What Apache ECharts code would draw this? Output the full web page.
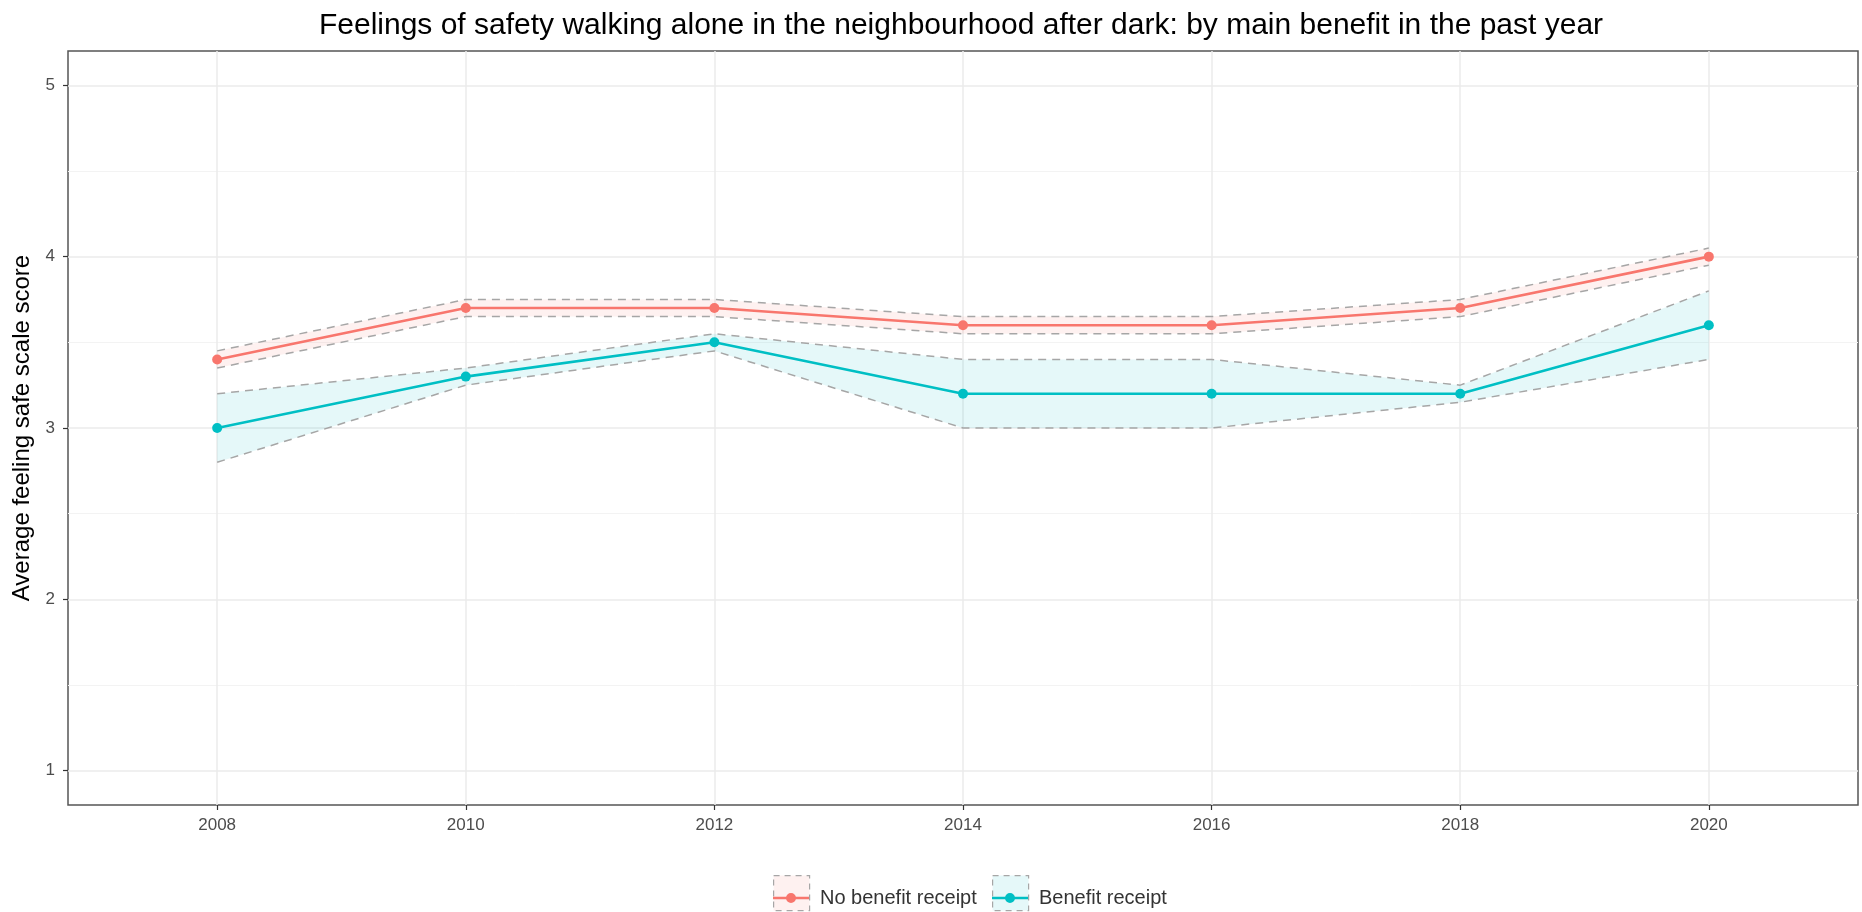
<!DOCTYPE html>
<html>
<head>
<meta charset="utf-8">
<script src="https://cdn.jsdelivr.net/npm/echarts@6/dist/echarts.min.js"></script>
<style>
  html, body { margin: 0; padding: 0; background: #ffffff; }
  #chart { width: 1862px; height: 912px; }
</style>
</head>
<body>
<div id="chart"></div>
<script>
// Survey years
const years = [2008, 2010, 2012, 2014, 2016, 2018, 2020];

// Average feeling-safe score, with lower/upper confidence bounds
const noBenefit     = [3.40, 3.70, 3.70, 3.60, 3.60, 3.70, 4.00];
const noBenefitLow  = [3.35, 3.65, 3.65, 3.55, 3.55, 3.65, 3.95];
const noBenefitHigh = [3.45, 3.75, 3.75, 3.65, 3.65, 3.75, 4.05];

const benefit     = [3.00, 3.30, 3.50, 3.20, 3.20, 3.20, 3.60];
const benefitLow  = [2.80, 3.25, 3.45, 3.00, 3.00, 3.15, 3.40];
const benefitHigh = [3.20, 3.35, 3.55, 3.40, 3.40, 3.25, 3.80];

// Axis ticks
const xTickValues = [2008, 2010, 2012, 2014, 2016, 2018, 2020];
const yTickValues = [1, 2, 3, 4, 5];
const yMinorValues = [1.5, 2.5, 3.5, 4.5];

const seriesNames = ['No benefit receipt', 'Benefit receipt'];
const bandNames = ['No benefit receipt band', 'Benefit receipt band'];
const RED = '#F8766D';
const TEAL = '#00BFC4';
const RED_FILL = 'rgba(248,118,109,0.10)';
const TEAL_FILL = 'rgba(0,191,196,0.10)';
const DASH_GREY = '#a6a6a6';
const FONT = 'Liberation Sans, Arial, sans-serif';

// Key glyph: horizontal line with a point in the middle
const LINE_POINT_ICON =
  'path://M0,3.75 L36,3.75 L36,6.25 L0,6.25 Z M13,5 A5,5 0 1,1 23,5 A5,5 0 1,1 13,5 Z';

const pairs = (vals) => years.map((y, i) => [y, vals[i]]);

// Shaded confidence band drawn as a single polygon through the axis scales
function ribbon(name, low, high, fill) {
  return {
    type: 'custom',
    name: name,
    silent: true,
    z: 1,
    data: years.map((y, i) => [y, low[i], high[i]]),
    encode: { x: 0, y: [1, 2] },
    renderItem: function (params, api) {
      if (params.dataIndex !== 0) return null;
      const top = years.map((y, i) => api.coord([y, high[i]]));
      const bottom = years.map((y, i) => api.coord([y, low[i]])).reverse();
      return {
        type: 'polygon',
        shape: { points: top.concat(bottom) },
        style: { fill: fill }
      };
    }
  };
}

function bound(name, vals) {
  return {
    type: 'line',
    name: name,
    data: pairs(vals),
    symbol: 'none',
    silent: true,
    z: 2,
    lineStyle: { color: DASH_GREY, width: 1.5, type: [8, 6] }
  };
}

function mainLine(name, vals, color) {
  return {
    type: 'line',
    name: name,
    data: pairs(vals),
    symbol: 'circle',
    symbolSize: 10,
    z: 3,
    itemStyle: { color: color },
    lineStyle: { color: color, width: 2.6 }
  };
}

// Dashed key box behind each legend entry
function keyBox(name, left, fill) {
  return {
    show: true,
    left: left, top: 875,
    padding: 0,
    itemWidth: 36, itemHeight: 35,
    selectedMode: false,
    formatter: () => '',
    data: [{
      name: name,
      icon: 'rect',
      itemStyle: { color: fill, borderColor: DASH_GREY, borderWidth: 1.2, borderType: [6, 5] }
    }]
  };
}

// Line-and-point key with its label
function keyLine(name, left, color) {
  return {
    show: true,
    left: left, top: 888,
    padding: 0,
    itemWidth: 36, itemHeight: 10,
    selectedMode: false,
    textStyle: { fontFamily: FONT, fontSize: 20, color: '#333333', padding: [0, 0, 0, 6] },
    data: [{ name: name, icon: LINE_POINT_ICON, itemStyle: { color: color } }]
  };
}

const chart = echarts.init(document.getElementById('chart'), null, { renderer: 'canvas' });

chart.setOption({
  animation: false,
  backgroundColor: '#ffffff',
  title: {
    text: 'Feelings of safety walking alone in the neighbourhood after dark: by main benefit in the past year',
    left: 956,
    textAlign: 'center',
    top: 6,
    textStyle: { fontFamily: FONT, fontSize: 30, fontWeight: 'normal', color: '#000000' }
  },
  legend: [
    keyBox(bandNames[0], 773, RED_FILL),
    keyBox(bandNames[1], 992, TEAL_FILL),
    keyLine(seriesNames[0], 773, RED),
    keyLine(seriesNames[1], 992, TEAL)
  ],
  grid: {
    left: 68, right: 4, top: 51, bottom: 107,
    show: true,
    borderColor: '#555555',
    borderWidth: 1.5,
    backgroundColor: 'transparent'
  },
  xAxis: {
    type: 'value',
    min: 2006.8,
    max: 2021.2,
    axisLine: { show: false },
    axisTick: { show: true, length: 5, customValues: xTickValues, lineStyle: { color: '#333333', width: 1.2 } },
    axisLabel: {
      customValues: xTickValues,
      formatter: (v) => String(v),
      margin: 12,
      fontFamily: FONT, fontSize: 17, color: '#4d4d4d'
    },
    splitLine: { show: true, lineStyle: { color: '#ebebeb', width: 1.5 } }
  },
  yAxis: [
    {
      type: 'value',
      min: 0.8,
      max: 5.2,
      axisLine: { show: false },
      axisTick: { show: true, length: 5, customValues: yTickValues, lineStyle: { color: '#333333', width: 1.2 } },
      axisLabel: {
        customValues: yTickValues,
        margin: 13,
        fontFamily: FONT, fontSize: 17, color: '#4d4d4d'
      },
      splitLine: { show: true, lineStyle: { color: '#ebebeb', width: 1.5 } },
      name: 'Average feeling safe scale score',
      nameLocation: 'middle',
      nameGap: 25,
      nameRotate: 90,
      nameTextStyle: { fontFamily: FONT, fontSize: 24, color: '#000000' }
    },
    {
      type: 'value',
      min: 0.8,
      max: 5.2,
      position: 'left',
      axisLine: { show: false },
      axisTick: { show: false, customValues: yMinorValues },
      axisLabel: { show: false, customValues: yMinorValues },
      splitLine: { show: true, lineStyle: { color: '#f3f3f3', width: 1 } }
    }
  ],
  series: [
    ribbon(bandNames[0], noBenefitLow, noBenefitHigh, RED_FILL),
    ribbon(bandNames[1], benefitLow, benefitHigh, TEAL_FILL),
    bound('No benefit receipt lower', noBenefitLow),
    bound('No benefit receipt upper', noBenefitHigh),
    bound('Benefit receipt lower', benefitLow),
    bound('Benefit receipt upper', benefitHigh),
    mainLine(seriesNames[0], noBenefit, RED),
    mainLine(seriesNames[1], benefit, TEAL)
  ]
});
</script>
</body>
</html>
